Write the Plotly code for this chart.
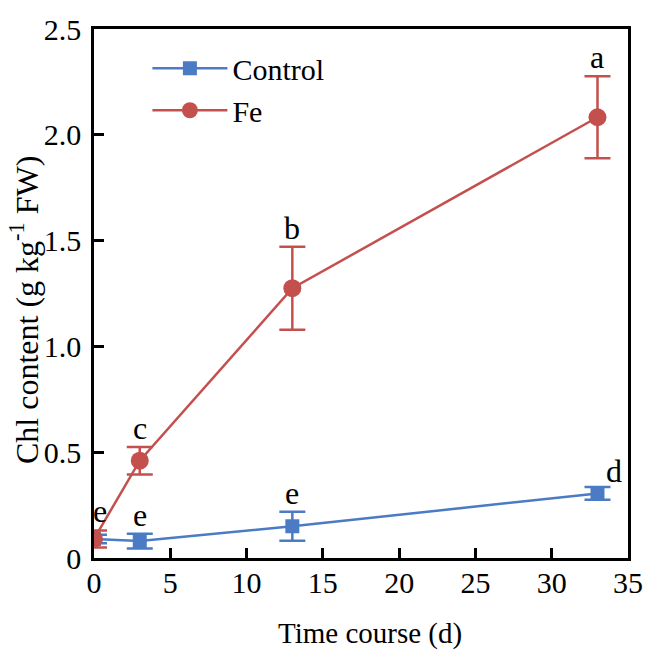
import plotly.graph_objects as go

days = [0, 3, 13, 33]
ctrl_mean = [0.09, 0.08, 0.15, 0.305]
ctrl_err = [0.02, 0.035, 0.068, 0.03]
fe_mean = [0.09, 0.46, 1.275, 2.083]
fe_err = [0.04, 0.065, 0.196, 0.194]
ctrl_letters = ["", "e", "e", "d"]
fe_letters = ["e", "c", "b", "a"]
x_ticks = [0, 5, 10, 15, 20, 25, 30, 35]
y_ticks = [0, 0.5, 1.0, 1.5, 2.0, 2.5]
y_ticktext = ["0", "0.5", "1.0", "1.5", "2.0", "2.5"]

BLUE = "#4A7BC4"
RED = "#C4504E"
FONT = "'Liberation Serif', 'Times New Roman', 'DejaVu Serif', serif"

fig = go.Figure()
fig.add_trace(go.Scatter(
    x=days, y=ctrl_mean, name="Control", mode="lines+markers",
    line=dict(color=BLUE, width=2.5),
    marker=dict(symbol="square", size=14, color=BLUE),
    error_y=dict(type="data", array=ctrl_err, color=BLUE, thickness=2.5, width=13),
))
fig.add_trace(go.Scatter(
    x=days, y=fe_mean, name="Fe", mode="lines+markers",
    line=dict(color=RED, width=2.5),
    marker=dict(symbol="circle", size=18, color=RED),
    error_y=dict(type="data", array=fe_err, color=RED, thickness=2.5, width=13),
))

annots = []
for xv, m, e, t in zip(days, fe_mean, fe_err, fe_letters):
    if t:
        annots.append(dict(x=xv, y=m + e, text=t, showarrow=False, yanchor="bottom",
                           yshift=-1, xshift=6 if xv == 0 else 0,
                           font=dict(family=FONT, size=32, color="black")))
for xv, m, e, t in zip(days, ctrl_mean, ctrl_err, ctrl_letters):
    if t:
        annots.append(dict(x=xv, y=m + e, text=t, showarrow=False, yanchor="bottom",
                           yshift=-4 if xv == 33 else -1, xshift=17 if xv == 33 else 0,
                           font=dict(family=FONT, size=32, color="black")))

annots.append(dict(xref="paper", yref="paper", x=0.516, y=-0.143, text="Time course (d)",
                   showarrow=False, xanchor="center", yanchor="middle",
                   font=dict(family=FONT, size=29, color="black")))
annots.append(dict(xref="paper", yref="paper", x=-0.13, y=0.468,
                   text="Chl content (g kg<sup>-1</sup> FW)", textangle=-90,
                   showarrow=False, xanchor="center", yanchor="middle",
                   font=dict(family=FONT, size=32, color="black")))

axis_common = dict(showline=True, linecolor="black", linewidth=2.5, mirror=True,
                   ticks="inside", ticklen=10, tickwidth=2.5, tickcolor="black",
                   showgrid=False, zeroline=False, ticklabeloverflow="allow",
                   tickfont=dict(family=FONT, size=30, color="black"))

fig.update_layout(
    width=655, height=656,
    margin=dict(l=94, r=16, t=14, b=98),
    plot_bgcolor="white", paper_bgcolor="white",
    showlegend=True,
    legend=dict(x=0.1, y=0.975, xanchor="left", yanchor="top",
                font=dict(family=FONT, size=30, color="black"),
                bgcolor="rgba(0,0,0,0)", itemwidth=75, tracegroupgap=0),
    annotations=annots,
    xaxis=dict(range=[0, 35], tickvals=x_ticks, ticktext=[str(v) for v in x_ticks],
               ticklabelstandoff=-4,
               **axis_common),
    yaxis=dict(range=[0, 2.5], tickvals=y_ticks, ticktext=y_ticktext,
               ticklabelstandoff=4,
               **axis_common),
)
fig.write_html("out.html")
